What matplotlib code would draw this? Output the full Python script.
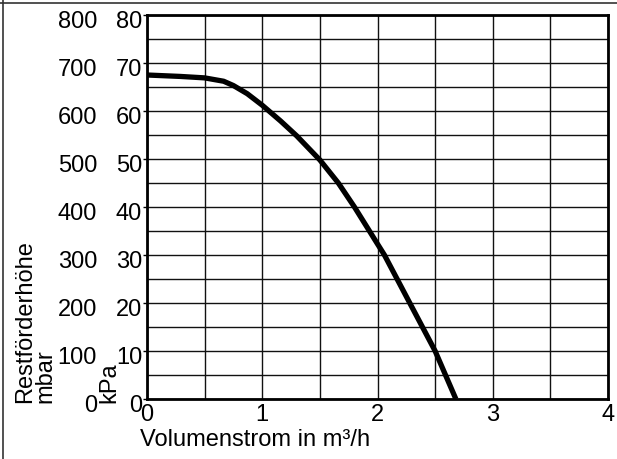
import matplotlib
matplotlib.use("Agg")
import matplotlib.pyplot as plt
from matplotlib.lines import Line2D
from matplotlib.ticker import MultipleLocator
from matplotlib.transforms import ScaledTranslation

# Data
flow = [0.0, 0.29, 0.5, 0.665, 0.75, 0.87, 1.0, 1.16, 1.30, 1.5, 1.66, 1.80,
        1.93, 2.0, 2.06, 2.17, 2.28, 2.39, 2.5, 2.59, 2.68]
head_kpa = [67.5, 67.2, 66.9, 66.2, 65.3, 63.6, 61.2, 57.9, 54.8, 49.8, 45.0, 40.0,
            35.0, 32.3, 30.0, 25.0, 20.0, 15.0, 10.0, 5.0, 0.0]
kpa_ticks = [0, 10, 20, 30, 40, 50, 60, 70, 80]
mbar_labels = ["0", "100", "200", "300", "400", "500", "600", "700", "800"]
x_ticks = [0, 1, 2, 3, 4]

plt.rcParams['font.family'] = ['Liberation Sans', 'DejaVu Sans']
FS = 17

W, H = 617, 460
fig = plt.figure(figsize=(W / 100, H / 100), dpi=100)
ax = fig.add_axes([147 / W, 1 - 400 / H, (608 - 147) / W, (400 - 16) / H])

ax.set_xlim(0, 4)
ax.set_ylim(0, 80)
ax.xaxis.set_minor_locator(MultipleLocator(0.5))
ax.yaxis.set_minor_locator(MultipleLocator(5))
ax.set_xticks(x_ticks)
ax.set_yticks(kpa_ticks)
ax.grid(True, which='both', color='#111111', linewidth=1.0)
ax.set_axisbelow(True)

ax.plot(flow, head_kpa, color='black', linewidth=3.8, solid_capstyle='butt',
        solid_joinstyle='round', zorder=3)

for s in ax.spines.values():
    s.set_linewidth(2.0)
    s.set_color('black')

ax.tick_params(axis='x', which='both', length=0, pad=3, labelsize=FS)
ax.tick_params(axis='y', which='major', length=3, width=1, pad=0.5, labelsize=FS, direction='out')
ax.tick_params(axis='y', which='minor', length=0)

shift = ScaledTranslation(0, -3.5 / 100, fig.dpi_scale_trans)
for lab in ax.get_yticklabels():
    lab.set_transform(lab.get_transform() + shift)

# secondary mbar labels
for v, lab in zip(kpa_ticks, mbar_labels):
    ax.annotate(lab, xy=(0, v), xycoords='data', xytext=(97 - 147, -3.5),
                textcoords='offset pixels', ha='right', va='center_baseline', fontsize=FS,
                annotation_clip=False)

# axis titles
fig.text(140 / W, 1 - 429 / H, "Volumenstrom in m³/h", ha='left', va='top', fontsize=FS)
fig.text(25 / W, 1 - 403 / H, "Restförderhöhe", rotation=90, ha='center', va='bottom', fontsize=FS)
fig.text(45 / W, 1 - 403 / H, "mbar", rotation=90, ha='center', va='bottom', fontsize=FS)
fig.text(109 / W, 1 - 403 / H, "kPa", rotation=90, ha='center', va='bottom', fontsize=FS)

# outer frame lines
fig.add_artist(Line2D([0, 1], [1 - 3.5 / H] * 2, transform=fig.transFigure, color='#333333', lw=1.2))
fig.add_artist(Line2D([2.5 / W] * 2, [0, 1], transform=fig.transFigure, color='#333333', lw=1.2))

fig.savefig("out.png", dpi=100)
